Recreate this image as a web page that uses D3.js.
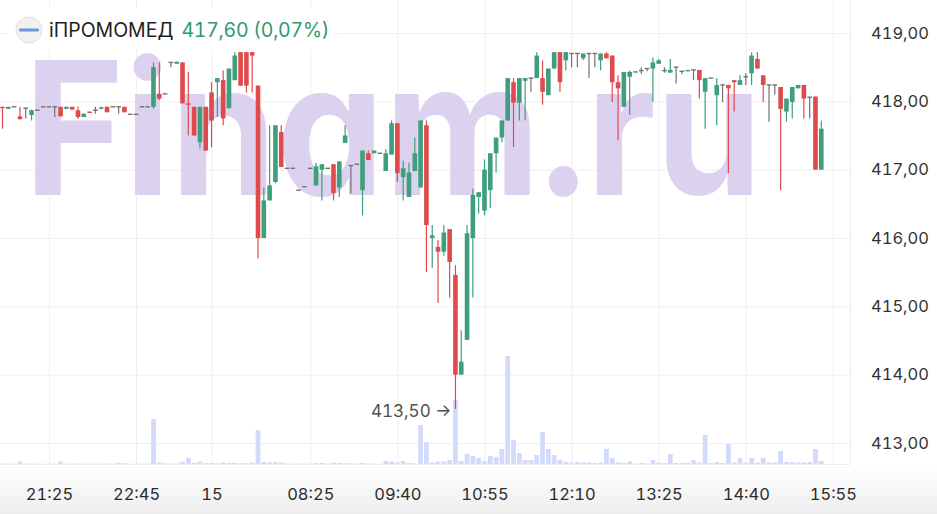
<!DOCTYPE html>
<html>
<head>
<meta charset="utf-8">
<script src="https://cdn.jsdelivr.net/npm/d3@7"></script>
<style>
html, body { margin: 0; padding: 0; background: #fff; }
svg { display: block; font-family: Inter, "Noto Sans", sans-serif; font-variant-numeric: tabular-nums; }
.wm { font-feature-settings: "cv11" 1; }
</style>
</head>
<body>
<div id="main"></div>
<script>
const ticker = 'iПРОМОМЕД';
const lastPrice = '417,60 (0,07%)';
const minLabel = '413,50 →';
const watermark = 'Finam.ru';

const priceTicks = [413, 414, 415, 416, 417, 418, 419];
const tickIdx = [8, 23, 36, 53, 68, 83, 98, 113, 128, 143];
const tickLabels = ['21:25', '22:45', '15', '08:25', '09:40', '10:55', '12:10', '13:25', '14:40', '15:55'];

// [open, high, low, close], 5-minute candles
const ohlc = [
  [417.92, 417.92, 417.60, 417.90], [417.89, 417.92, 417.89, 417.92], [417.92, 417.92, 417.92, 417.92],
  [417.78, 417.92, 417.73, 417.74], [417.90, 417.90, 417.75, 417.90], [417.80, 417.88, 417.72, 417.87],
  [417.87, 417.87, 417.87, 417.87], [417.92, 417.92, 417.92, 417.92], [417.92, 417.92, 417.92, 417.92],
  [417.92, 417.92, 417.77, 417.92], [417.92, 417.92, 417.78, 417.78], [417.89, 417.92, 417.89, 417.92],
  [417.92, 417.92, 417.88, 417.88], [417.87, 417.92, 417.74, 417.77], [417.77, 417.82, 417.77, 417.82],
  [417.85, 417.85, 417.83, 417.83], [417.87, 417.92, 417.82, 417.87], [417.90, 417.92, 417.90, 417.90],
  [417.92, 417.92, 417.84, 417.84], [417.92, 417.92, 417.92, 417.92], [417.92, 417.92, 417.82, 417.92],
  [417.92, 417.92, 417.84, 417.84], [417.81, 417.81, 417.81, 417.81], [417.81, 417.81, 417.81, 417.81],
  [417.92, 417.92, 417.92, 417.92], [417.92, 417.92, 417.92, 417.92], [417.92, 418.57, 417.89, 418.50],
  [418.11, 418.57, 418.02, 418.04], [418.11, 418.11, 418.11, 418.11], [418.57, 418.57, 418.50, 418.57],
  [418.55, 418.58, 418.55, 418.58], [418.57, 418.57, 417.97, 417.97], [417.97, 418.43, 417.50, 417.95],
  [417.92, 417.92, 417.50, 417.50], [417.40, 417.92, 417.31, 417.92], [417.92, 417.92, 417.28, 417.28],
  [418.13, 418.28, 417.33, 417.72], [418.28, 418.34, 417.77, 418.34], [418.31, 418.45, 417.65, 417.75],
  [417.90, 418.48, 417.90, 418.48], [418.31, 418.72, 418.31, 418.67], [418.72, 418.72, 418.23, 418.23],
  [418.72, 418.72, 418.13, 418.23], [418.72, 418.72, 418.13, 418.67], [418.23, 418.23, 415.70, 416.00],
  [416.00, 416.74, 416.00, 416.55], [416.55, 417.65, 416.55, 416.77], [416.82, 417.65, 416.80, 417.65],
  [417.55, 417.65, 417.04, 417.04], [417.02, 417.02, 417.02, 417.02], [417.02, 417.02, 417.02, 417.02],
  [416.70, 416.70, 416.70, 416.70], [416.75, 416.75, 416.75, 416.75], [417.02, 417.02, 417.02, 417.02],
  [416.77, 417.10, 416.77, 417.05], [417.00, 417.08, 416.55, 417.08], [417.02, 417.02, 417.02, 417.02],
  [417.08, 417.08, 416.55, 416.66], [416.74, 417.12, 416.60, 417.12], [417.39, 417.65, 417.39, 417.50],
  [417.06, 417.06, 416.65, 417.06], [417.08, 417.08, 417.08, 417.08], [416.70, 417.28, 416.33, 417.28],
  [417.24, 417.28, 417.14, 417.14], [417.24, 417.28, 417.24, 417.28], [417.24, 417.24, 417.24, 417.24],
  [416.98, 417.30, 416.98, 417.24], [417.22, 417.72, 417.22, 417.68], [417.68, 417.68, 416.82, 416.95],
  [416.89, 417.13, 416.55, 417.02], [416.60, 417.10, 416.60, 416.96], [416.98, 417.47, 416.98, 417.24],
  [416.74, 417.72, 416.74, 417.72], [417.65, 417.72, 415.50, 416.19], [416.00, 416.19, 415.56, 416.04],
  [415.87, 415.97, 415.05, 415.80], [415.80, 416.19, 415.74, 416.08], [416.13, 416.13, 415.13, 415.65],
  [415.46, 415.60, 413.50, 414.00], [414.00, 414.65, 414.00, 414.19], [414.51, 416.19, 414.51, 416.07],
  [416.00, 416.72, 415.13, 416.63], [416.60, 416.67, 416.36, 416.67], [416.40, 417.15, 416.33, 417.00],
  [416.70, 417.24, 416.44, 417.24], [417.24, 417.47, 416.96, 417.47], [417.47, 417.72, 417.40, 417.72],
  [417.72, 418.34, 417.72, 418.34], [418.28, 418.34, 417.33, 417.98], [417.98, 418.34, 417.72, 418.34],
  [418.30, 418.34, 417.72, 418.34], [418.34, 418.34, 418.14, 418.34], [418.34, 418.72, 418.34, 418.67],
  [418.34, 418.60, 417.95, 418.14], [418.09, 418.48, 418.09, 418.48], [418.48, 418.72, 418.48, 418.72],
  [418.72, 418.72, 418.14, 418.28], [418.60, 418.72, 418.45, 418.72], [418.70, 418.70, 418.50, 418.70],
  [418.70, 418.70, 418.50, 418.70], [418.63, 418.70, 418.60, 418.70], [418.70, 418.70, 418.34, 418.70],
  [418.70, 418.70, 418.50, 418.70], [418.60, 418.70, 418.45, 418.70], [418.70, 418.72, 418.63, 418.63],
  [418.67, 418.67, 417.99, 418.28], [418.28, 418.38, 417.43, 418.19], [417.92, 418.43, 417.92, 418.43],
  [418.36, 418.45, 417.80, 418.43], [418.43, 418.43, 418.43, 418.43], [418.45, 418.50, 418.40, 418.45],
  [418.48, 418.48, 418.44, 418.48], [418.48, 418.64, 417.99, 418.57], [418.55, 418.62, 418.55, 418.60],
  [418.45, 418.50, 418.42, 418.45], [418.42, 418.62, 418.42, 418.46], [418.50, 418.50, 418.26, 418.50],
  [418.44, 418.44, 418.40, 418.44], [418.44, 418.46, 418.44, 418.46], [418.46, 418.46, 418.31, 418.46],
  [418.46, 418.46, 418.04, 418.31], [418.14, 418.34, 417.60, 418.34], [418.34, 418.34, 418.34, 418.34],
  [418.09, 418.34, 417.65, 418.24], [418.24, 418.24, 417.99, 418.24], [418.24, 418.24, 416.95, 418.19],
  [418.31, 418.31, 417.85, 418.28], [418.24, 418.38, 418.24, 418.31], [418.36, 418.41, 418.24, 418.36],
  [418.41, 418.72, 418.24, 418.67], [418.62, 418.72, 418.48, 418.48], [418.38, 418.38, 417.99, 418.24],
  [418.24, 418.24, 417.70, 418.24], [418.24, 418.24, 418.10, 418.24], [418.21, 418.21, 416.70, 417.89],
  [417.85, 418.04, 417.70, 418.04], [417.99, 418.21, 417.75, 418.21], [418.19, 418.24, 418.19, 418.24],
  [418.24, 418.24, 417.75, 418.04], [418.06, 418.06, 417.75, 418.06], [418.07, 418.07, 417.00, 417.00],
  [417.00, 417.72, 417.00, 417.60]
];

const volumes = [
  50, 30, 30, 250, 40, 60, 20, 20, 20, 40, 250, 30, 40, 60, 40, 30, 40, 20, 60, 20,
  120, 80, 20, 20, 30, 40, 4500, 150, 60, 40, 60, 200, 600, 100, 250, 80, 100, 60, 150, 100,
  120, 60, 80, 150, 3400, 200, 180, 200, 150, 40, 30, 60, 40, 30, 80, 100, 40, 120, 100, 60,
  80, 40, 100, 60, 40, 30, 300, 250, 150, 300, 100, 60, 3900, 2200, 150, 250, 250, 400, 6400, 300,
  1000, 800, 600, 300, 800, 700, 1500, 10800, 2400, 1100, 400, 400, 900, 3200, 1500, 900, 400, 200, 150, 200,
  150, 150, 100, 150, 1500, 600, 150, 100, 250, 50, 100, 50, 400, 150, 100, 1000, 100, 120, 120, 400,
  150, 2900, 100, 200, 100, 2000, 150, 600, 150, 600, 120, 600, 150, 150, 1300, 200, 200, 150, 150, 200,
  1500, 300
];

const W = 937, H = 514;
const plotRight = 850, plotBottom = 464;
const green = '#3f9e7b', red = '#e04a4a', grey = '#727272';

const svg = d3.select('#main').append('svg').attr('width', W).attr('height', H);

const x = d3.scaleLinear().domain([0, 143]).range([2.5, 832.9]);
const y = d3.scaleLinear().domain([413, 419]).range([443, 33]);
const yVol = d3.scaleLinear().domain([0, 12000]).range([plotBottom, plotBottom - 120]);

const fmtPrice = d => d3.format('.2f')(d).replace('.', ',');

// bottom band
const defs = svg.append('defs');
const grad = defs.append('linearGradient').attr('id', 'band').attr('x1', 0).attr('x2', 0).attr('y1', 0).attr('y2', 1);
grad.append('stop').attr('offset', '0%').attr('stop-color', '#ffffff');
grad.append('stop').attr('offset', '100%').attr('stop-color', '#eeeeee');
defs.append('clipPath').attr('id', 'plot').append('rect').attr('x', 0).attr('y', 0).attr('width', plotRight).attr('height', plotBottom);

svg.append('rect').attr('x', 0).attr('y', plotBottom).attr('width', W).attr('height', H - plotBottom).attr('fill', 'url(#band)');

// grid
const gx = svg.append('g').attr('transform', `translate(0,${plotBottom})`)
  .call(d3.axisBottom(x).tickValues(tickIdx).tickSize(-plotBottom).tickFormat(''));
const gy = svg.append('g').attr('transform', `translate(${plotRight},0)`)
  .call(d3.axisRight(y).tickValues(priceTicks).tickSize(-plotRight).tickFormat(''));
[gx, gy].forEach(g => {
  g.select('.domain').remove();
  g.selectAll('line').attr('stroke', '#efefef');
});
svg.append('line').attr('x1', plotRight + 0.5).attr('x2', plotRight + 0.5).attr('y1', 0).attr('y2', plotBottom).attr('stroke', '#ececec');
svg.append('line').attr('x1', 0).attr('x2', plotRight).attr('y1', plotBottom + 0.5).attr('y2', plotBottom + 0.5).attr('stroke', '#ececec');

// watermark
svg.append('text').classed('wm', true)
  .attr('x', 24).attr('y', 195)
  .attr('font-size', 185).attr('font-weight', 700)
  .attr('textLength', 738).attr('lengthAdjust', 'spacingAndGlyphs')
  .attr('fill', '#ddd1f0')
  .text(watermark);

const plot = svg.append('g').attr('clip-path', 'url(#plot)');

// volume
plot.selectAll('rect.vol').data(volumes).join('rect').classed('vol', true)
  .attr('x', (d, i) => x(i) - 2.4)
  .attr('width', 4.8)
  .attr('y', d => yVol(d))
  .attr('height', d => plotBottom - yVol(d))
  .attr('fill', '#d4dbfa');

// candles
const colour = d => d[3] > d[0] ? green : d[3] < d[0] ? red : grey;
const candles = plot.selectAll('g.candle').data(ohlc).join('g').classed('candle', true);
candles.append('line')
  .attr('x1', (d, i) => x(i)).attr('x2', (d, i) => x(i))
  .attr('y1', d => y(d[1])).attr('y2', d => y(d[2]))
  .attr('stroke', colour).attr('stroke-width', 1.2);
candles.append('rect')
  .attr('x', (d, i) => x(i) - 2.3)
  .attr('width', 4.6)
  .attr('y', d => y(Math.max(d[0], d[3])) - (d[0] === d[3] ? 0.7 : 0))
  .attr('height', d => Math.max(1.4, Math.abs(y(d[0]) - y(d[3]))))
  .attr('fill', colour);

// minimum marker
const iMin = d3.minIndex(ohlc, d => d[2]);
svg.append('text')
  .attr('x', x(iMin) - 4).attr('y', y(ohlc[iMin][2]) + 2)
  .attr('dy', '0.35em').attr('text-anchor', 'end')
  .attr('font-size', 17).attr('fill', '#505050')
  .text(minLabel);

// axes labels
const ax = svg.append('g').attr('transform', `translate(0,${plotBottom})`)
  .call(d3.axisBottom(x).tickValues(tickIdx).tickSize(0).tickFormat((d, i) => tickLabels[i]));
ax.select('.domain').remove();
ax.selectAll('text').attr('y', 30).attr('dy', '0.35em').attr('font-size', 16.5).attr('fill', '#2b2b2b').attr('font-family', 'Inter');

const ay = svg.append('g').attr('transform', `translate(${plotRight},0)`)
  .call(d3.axisRight(y).tickValues(priceTicks).tickSize(0).tickPadding(21).tickFormat(fmtPrice));
ay.select('.domain').remove();
ay.selectAll('text').attr('font-size', 16.5).attr('fill', '#333').attr('font-family', 'Inter');

// header
const head = svg.append('g');
head.append('rect').attr('x', 8).attr('y', 8).attr('width', 330).attr('height', 42).attr('rx', 8)
  .attr('fill', '#fff').attr('fill-opacity', 0.92);
head.append('circle').attr('cx', 29).attr('cy', 30).attr('r', 13).attr('fill', '#f1f1f3').attr('stroke', '#e2e2e6');
head.append('rect').attr('x', 19).attr('y', 28.5).attr('width', 20).attr('height', 3).attr('rx', 1).attr('fill', '#6f95d6');
const t1 = head.append('text').attr('x', 49).attr('y', 37).attr('font-size', 19.5).attr('fill', '#1f1f1f').text(ticker);
const w1 = t1.node().getComputedTextLength();
head.append('text').attr('x', 49 + w1 + 8).attr('y', 37).attr('font-size', 19.5)
  .attr('textLength', 148).attr('lengthAdjust', 'spacing')
  .attr('fill', '#2f9a70').text(lastPrice);
</script>
</body>
</html>
